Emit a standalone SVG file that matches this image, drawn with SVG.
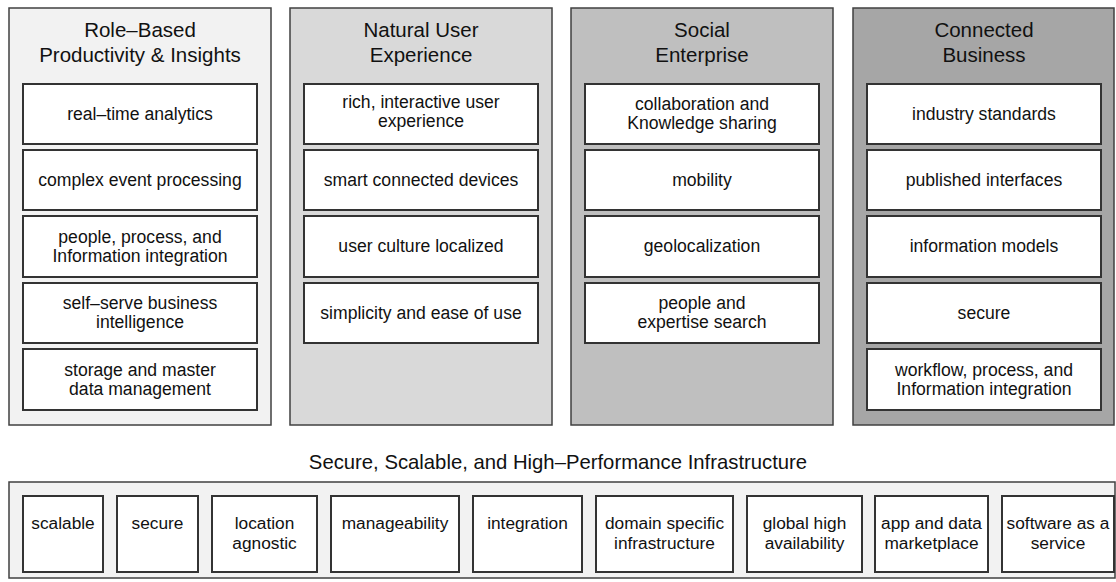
<svg xmlns="http://www.w3.org/2000/svg" width="1116" height="582" viewBox="0 0 1116 582">
<style>
text{font-family:"Liberation Sans",Arial,sans-serif;fill:#111;text-anchor:middle}
.t{font-size:20.5px}
.b{font-size:17.6px}
.i{font-size:17.3px}
.col{stroke:#404040;stroke-width:1.5}
.box{fill:#fff;stroke:#333;stroke-width:2}
</style>
<rect width="1116" height="582" fill="#fff"/>
<g id="col1">
<rect class="col" x="9" y="8" width="262" height="417" fill="#f2f2f2"/>
<text class="t" x="140" y="37">Role–Based</text>
<text class="t" x="140" y="62">Productivity &amp; Insights</text>
<rect class="box" x="23" y="84" width="234" height="60"/><text class="b" x="140" y="120">real–time analytics</text>
<rect class="box" x="23" y="150" width="234" height="60"/><text class="b" x="140" y="186">complex event processing</text>
<rect class="box" x="23" y="216" width="234" height="61"/><text class="b" x="140" y="243">people, process, and</text><text class="b" x="140" y="262">Information integration</text>
<rect class="box" x="23" y="283" width="234" height="60"/><text class="b" x="140" y="309">self–serve business</text><text class="b" x="140" y="328">intelligence</text>
<rect class="box" x="23" y="349" width="234" height="61"/><text class="b" x="140" y="376">storage and master</text><text class="b" x="140" y="395">data management</text>
</g>
<g id="col2">
<rect class="col" x="290" y="8" width="262" height="417" fill="#d9d9d9"/>
<text class="t" x="421" y="37">Natural User</text>
<text class="t" x="421" y="62">Experience</text>
<rect class="box" x="304" y="84" width="234" height="60"/><text class="b" x="421" y="108">rich, interactive user</text><text class="b" x="421" y="127">experience</text>
<rect class="box" x="304" y="150" width="234" height="60"/><text class="b" x="421" y="186">smart connected devices</text>
<rect class="box" x="304" y="216" width="234" height="61"/><text class="b" x="421" y="252">user culture localized</text>
<rect class="box" x="304" y="283" width="234" height="60"/><text class="b" x="421" y="319">simplicity and ease of use</text>
</g>
<g id="col3">
<rect class="col" x="571" y="8" width="262" height="417" fill="#bfbfbf"/>
<text class="t" x="702" y="37">Social</text>
<text class="t" x="702" y="62">Enterprise</text>
<rect class="box" x="585" y="84" width="234" height="60"/><text class="b" x="702" y="110">collaboration and</text><text class="b" x="702" y="129">Knowledge sharing</text>
<rect class="box" x="585" y="150" width="234" height="60"/><text class="b" x="702" y="186">mobility</text>
<rect class="box" x="585" y="216" width="234" height="61"/><text class="b" x="702" y="252">geolocalization</text>
<rect class="box" x="585" y="283" width="234" height="60"/><text class="b" x="702" y="309">people and</text><text class="b" x="702" y="328">expertise search</text>
</g>
<g id="col4">
<rect class="col" x="853" y="8" width="261" height="417" fill="#a6a6a6"/>
<text class="t" x="984" y="37">Connected</text>
<text class="t" x="984" y="62">Business</text>
<rect class="box" x="867" y="84" width="234" height="60"/><text class="b" x="984" y="120">industry standards</text>
<rect class="box" x="867" y="150" width="234" height="60"/><text class="b" x="984" y="186">published interfaces</text>
<rect class="box" x="867" y="216" width="234" height="61"/><text class="b" x="984" y="252">information models</text>
<rect class="box" x="867" y="283" width="234" height="60"/><text class="b" x="984" y="319">secure</text>
<rect class="box" x="867" y="349" width="234" height="61"/><text class="b" x="984" y="376">workflow, process, and</text><text class="b" x="984" y="395">Information integration</text>
</g>
<g id="infra">
<text class="t" x="558" y="469" style="font-size:20.3px">Secure, Scalable, and High–Performance Infrastructure</text>
<rect class="col" x="9" y="482" width="1106" height="96" fill="#f2f2f2"/>
</g>
<g id="infra-items">
<rect class="box" x="23" y="496" width="80" height="76"/><text class="i" x="63" y="529">scalable</text>
<rect class="box" x="117" y="496" width="81" height="76"/><text class="i" x="157.5" y="529">secure</text>
<rect class="box" x="212" y="496" width="105" height="76"/><text class="i" x="264.5" y="529">location</text><text class="i" x="264.5" y="549">agnostic</text>
<rect class="box" x="331" y="496" width="128" height="76"/><text class="i" x="395" y="529">manageability</text>
<rect class="box" x="473" y="496" width="109" height="76"/><text class="i" x="527.5" y="529">integration</text>
<rect class="box" x="596" y="496" width="137" height="76"/><text class="i" x="664.5" y="529">domain specific</text><text class="i" x="664.5" y="549">infrastructure</text>
<rect class="box" x="747" y="496" width="115" height="76"/><text class="i" x="804.5" y="529">global high</text><text class="i" x="804.5" y="549">availability</text>
<rect class="box" x="875" y="496" width="113" height="76"/><text class="i" x="931.5" y="529">app and data</text><text class="i" x="931.5" y="549">marketplace</text>
<rect class="box" x="1002" y="496" width="112" height="76"/><text class="i" x="1058" y="529">software as a</text><text class="i" x="1058" y="549">service</text>
</g>
</svg>
